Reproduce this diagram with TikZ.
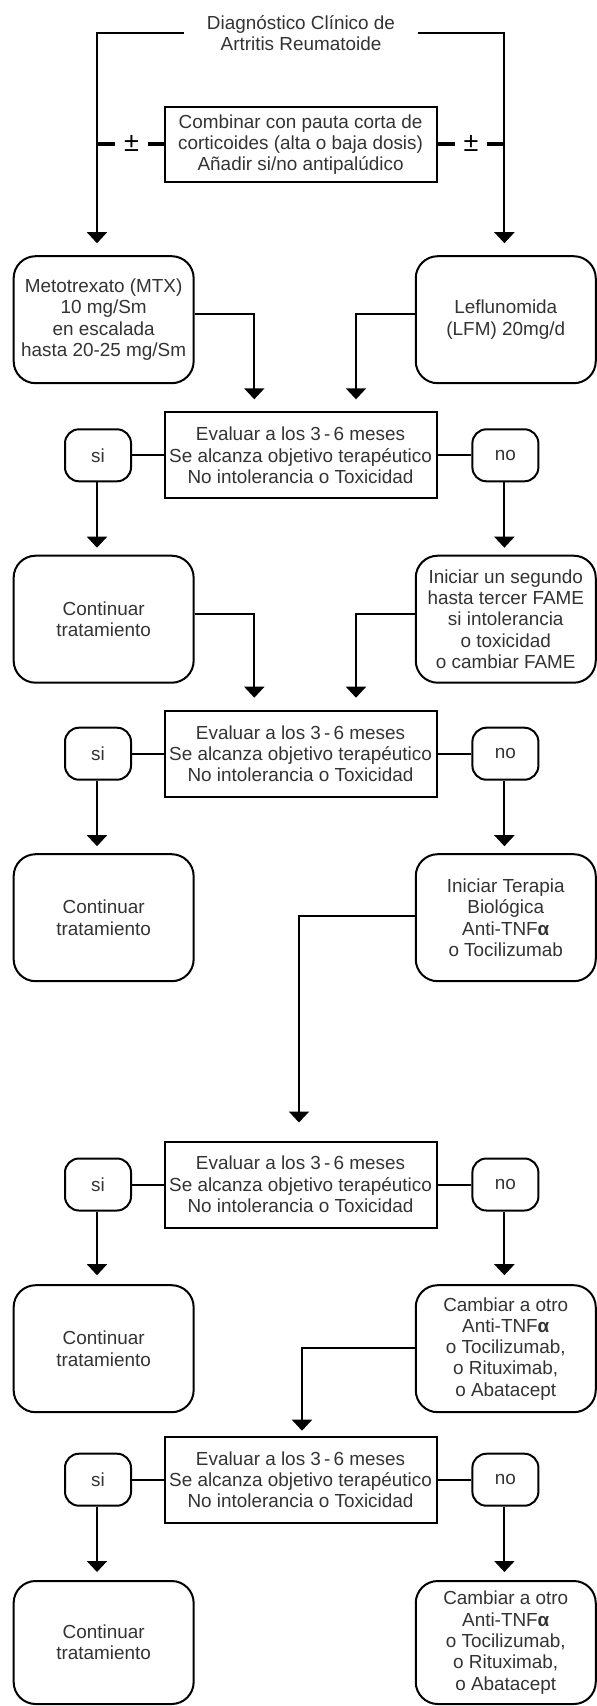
\documentclass[tikz,border=0pt]{standalone}
\usepackage{fontspec}
\setmainfont{Liberation Sans}
\usetikzlibrary{arrows.meta,calc}
\begin{document}
\begin{tikzpicture}[x=1pt,y=-1pt,
  every node/.style={font=\fontsize{18.9}{21.3}\selectfont, text=black!80, align=center, inner sep=0pt},
  bigbox/.style={draw=black, line width=2pt, rounded corners=22pt, minimum width=180pt, minimum height=127pt},
  evalbox/.style={draw=black, line width=2pt, minimum width=272pt, minimum height=86pt},
  ansbox/.style={draw=black, line width=2pt, rounded corners=14pt, minimum width=66pt, minimum height=52pt},
  pmsign/.style={font=\fontsize{27}{27}\selectfont, text=black},
  conn/.style={draw=black, line width=2pt},
  arr/.style={conn, -{Triangle[width=20pt,length=11pt]}},
  pmdash/.style={draw=black, line width=4pt},
]
\path[fill=white] (0,0) rectangle (597,1706);
\useasboundingbox (0,0) rectangle (597,1706);

% column coordinates
\coordinate (lcol) at (97,0);
\coordinate (rcol) at (504.4,0);
\coordinate (mlc) at (254.3,0);
\coordinate (mrc) at (356,0);
\coordinate (cc3) at (299,0);
\coordinate (cc4) at (302,0);

% nodes
\node[minimum width=234pt, minimum height=40pt] (title) at (301,33) {Diagnóstico Clínico de\\Artritis Reumatoide};
\node[evalbox, minimum height=74.4pt] (comb) at (300.6,144.5) {Combinar con pauta corta de\\corticoides (alta o baja dosis)\\Añadir si/no antipalúdico};
\node[pmsign, minimum width=33pt] (pmL) at (131.5,143.5) {±};
\node[pmsign, minimum width=32pt] (pmR) at (471,143.5) {±};

\node[bigbox] (met) at (103.65,319.7) {Metotrexato (MTX)\\10 mg/Sm\\en escalada\\hasta 20-25 mg/Sm};
\node[bigbox] (lef) at (505.75,319.7) {Leflunomida\\(LFM) 20mg/d};

\node[evalbox] (ev1) at (300.5,455.3) {Evaluar a los 3\,-\,6 meses\\Se alcanza objetivo terapéutico\\No intolerancia o Toxicidad};
\node[ansbox] (si1) at (98,455.3) {si};
\node[ansbox] (no1) at (505.4,455.3) {no};

\node[bigbox] (cont1) at (103.65,619.2) {Continuar\\tratamiento};
\node[bigbox] (ini2) at (505.75,619.2) {Iniciar un segundo\\hasta tercer FAME\\si intolerancia\\o toxicidad\\o cambiar FAME};

\node[evalbox] (ev2) at (300.5,753.7) {Evaluar a los 3\,-\,6 meses\\Se alcanza objetivo terapéutico\\No intolerancia o Toxicidad};
\node[ansbox] (si2) at (98,753.7) {si};
\node[ansbox] (no2) at (505.4,753.7) {no};

\node[bigbox] (cont2) at (103.65,917.7) {Continuar\\tratamiento};
\node[bigbox] (iniT) at (505.75,917.7) {Iniciar Terapia\\Biológica\\Anti-TNF\textbf{α}\\o Tocilizumab};

\node[evalbox] (ev3) at (300.5,1184.5) {Evaluar a los 3\,-\,6 meses\\Se alcanza objetivo terapéutico\\No intolerancia o Toxicidad};
\node[ansbox] (si3) at (98,1184.5) {si};
\node[ansbox] (no3) at (505.4,1184.5) {no};

\node[bigbox] (cont3) at (103.65,1348.7) {Continuar\\tratamiento};
\node[bigbox] (camb3) at (505.75,1348.7) {Cambiar a otro\\Anti-TNF\textbf{α}\\o Tocilizumab,\\o Rituximab,\\o Abatacept};

\node[evalbox] (ev4) at (300.5,1479.7) {Evaluar a los 3\,-\,6 meses\\Se alcanza objetivo terapéutico\\No intolerancia o Toxicidad};
\node[ansbox] (si4) at (98,1479.7) {si};
\node[ansbox] (no4) at (505.4,1479.7) {no};

\node[bigbox, minimum height=123pt] (cont4) at (103.65,1642.5) {Continuar\\tratamiento};
\node[bigbox, minimum height=123pt] (camb4) at (505.75,1642.5) {Cambiar a otro\\Anti-TNF\textbf{α}\\o Tocilizumab,\\o Rituximab,\\o Abatacept};

% top connectors
\draw[arr, shorten >=12pt] (title.west) -| (met.north -| lcol);
\draw[arr, shorten >=12pt] (title.east) -| (lef.north -| rcol);
\draw[pmdash] (pmL.west -| lcol) -- (pmL.west);
\draw[pmdash] (pmL.east) -- (pmL.east -| comb.west);
\draw[pmdash] (pmR.west -| comb.east) -- (pmR.west);
\draw[pmdash] (pmR.east) -- (pmR.east -| rcol);

% row 1
\draw[arr, shorten >=12pt] ([yshift=5.7pt]met.east) -| (ev1.north -| mlc);
\draw[arr, shorten >=12pt] ([yshift=5.7pt]lef.west) -| (ev1.north -| mrc);
\draw[conn] (si1.east) -- (si1.east -| ev1.west);
\draw[conn] (no1.west) -- (no1.west -| ev1.east);
\draw[arr, shorten >=7pt] (si1.south -| lcol) -- (cont1.north -| lcol);
\draw[arr, shorten >=7pt] (no1.south -| rcol) -- (ini2.north -| rcol);

% row 2
\draw[arr, shorten >=12pt] ([yshift=5pt]cont1.east) -| (ev2.north -| mlc);
\draw[arr, shorten >=12pt] ([yshift=5pt]ini2.west) -| (ev2.north -| mrc);
\draw[conn] (si2.east) -- (si2.east -| ev2.west);
\draw[conn] (no2.west) -- (no2.west -| ev2.east);
\draw[arr, shorten >=7pt] (si2.south -| lcol) -- (cont2.north -| lcol);
\draw[arr, shorten >=7pt] (no2.south -| rcol) -- (iniT.north -| rcol);

% row 3
\draw[arr, shorten >=18pt] ([yshift=1.7pt]iniT.west) -| (ev3.north -| cc3);
\draw[conn] (si3.east) -- (si3.east -| ev3.west);
\draw[conn] (no3.west) -- (no3.west -| ev3.east);
\draw[arr, shorten >=9pt] (si3.south -| lcol) -- (cont3.north -| lcol);
\draw[arr, shorten >=9pt] (no3.south -| rcol) -- (camb3.north -| rcol);

% row 4
\draw[arr, shorten >=5pt] ([yshift=1pt]camb3.west) -| (ev4.north -| cc4);
\draw[conn] (si4.east) -- (si4.east -| ev4.west);
\draw[conn] (no4.west) -- (no4.west -| ev4.east);
\draw[arr, shorten >=8pt] (si4.south -| lcol) -- (cont4.north -| lcol);
\draw[arr, shorten >=8pt] (no4.south -| rcol) -- (camb4.north -| rcol);
\end{tikzpicture}
\end{document}
